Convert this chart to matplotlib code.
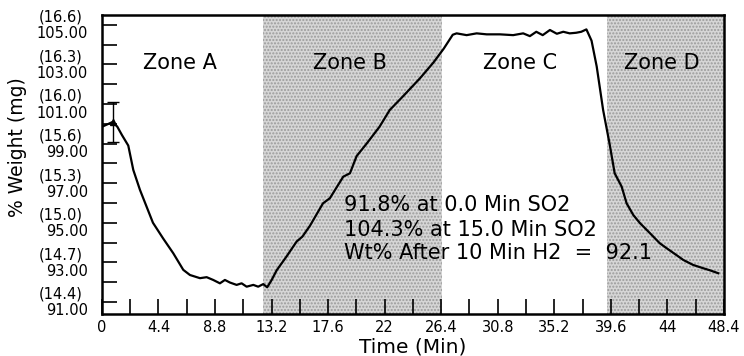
import matplotlib
matplotlib.use('Agg')
import matplotlib.pyplot as plt
from matplotlib.ticker import MultipleLocator

# TGA trace: time (min) vs % weight
time_min = [0.0, 0.86, 1.2, 1.56, 2.05, 2.44, 2.96, 3.97, 4.77, 5.55, 6.33, 6.85,
            7.63, 8.15, 8.66, 9.18, 9.57, 9.96, 10.48, 10.87, 11.26, 11.78, 12.16,
            12.55, 12.86, 13.2, 13.6, 14.37, 15.15, 15.6, 16.19, 17.2, 17.74, 18.78,
            19.3, 19.82, 20.6, 21.6, 22.4, 23.4, 24.75, 25.8, 26.6, 27.3, 27.6,
            28.38, 29.16, 29.94, 30.97, 32.0, 32.78, 33.3, 33.8, 34.3, 34.86, 35.4,
            35.9, 36.4, 36.9, 37.3, 37.7, 38.1, 38.5, 39.0, 39.5, 39.9, 40.44, 40.83,
            41.35, 41.87, 42.65, 43.4, 43.95, 44.7, 45.24, 46.0, 46.8, 47.3, 47.96]
weight_pct = [99.85, 100.1, 99.85, 99.43, 98.9, 97.67, 96.66, 95.0, 94.2, 93.46, 92.62,
              92.36, 92.2, 92.25, 92.11, 91.94, 92.11, 91.98, 91.86, 91.94, 91.77,
              91.86, 91.77, 91.9, 91.74, 92.1, 92.6, 93.3, 94.05, 94.3, 94.85, 95.98,
              96.24, 97.33, 97.5, 98.37, 99.0, 99.85, 100.7, 101.37, 102.3, 103.1,
              103.8, 104.5, 104.57, 104.48, 104.57, 104.52, 104.52, 104.48, 104.57,
              104.43, 104.65, 104.48, 104.74, 104.55, 104.65, 104.57, 104.6, 104.65,
              104.77, 104.2, 102.9, 100.7, 99.0, 97.5, 96.83, 95.98, 95.39, 94.98,
              94.47, 93.97, 93.71, 93.37, 93.12, 92.87, 92.7, 92.6, 92.45]

# starting point with its error bar
start_time = 0.86
start_weight = 100.1
start_err = 1.0

# zones (shaded ones are gas exposure periods)
zone_names = ['Zone A', 'Zone B', 'Zone C', 'Zone D']
zone_label_x = [6.1, 19.3, 32.5, 43.6]
shaded_zones = [(12.5, 26.5), (39.3, 48.4)]

y_ticks = [105, 103, 101, 99, 97, 95, 93, 91]
y_tick_pct = ['105.00', '103.00', '101.00', '99.00', '97.00', '95.00', '93.00', '91.00']
y_tick_mg = ['(16.6)', '(16.3)', '(16.0)', '(15.6)', '(15.3)', '(15.0)', '(14.7)', '(14.4)']
x_ticks = [0, 4.4, 8.8, 13.2, 17.6, 22, 26.4, 30.8, 35.2, 39.6, 44, 48.4]
x_tick_labels = ['0', '4.4', '8.8', '13.2', '17.6', '22', '26.4', '30.8', '35.2', '39.6', '44', '48.4']

notes = ['91.8% at 0.0 Min SO2', '104.3% at 15.0 Min SO2', 'Wt% After 10 Min H2  =  92.1']
notes_y = [95.9, 94.64, 93.47]

fig = plt.figure(figsize=(7.44, 3.56), dpi=100)
ax = fig.add_axes([0.137, 0.118, 0.836, 0.840])

for x0, x1 in shaded_zones:
    ax.axvspan(x0, x1, facecolor='#d6d6d6', edgecolor='#9a9a9a', hatch='.....',
               linewidth=0, zorder=0)

ax.plot(time_min, weight_pct, color='black', linewidth=1.6, zorder=3)
ax.errorbar([start_time], [start_weight], yerr=[start_err], fmt='^', color='black',
            markersize=4, capsize=4, elinewidth=1.0, capthick=1.0, zorder=4)

for name, x in zip(zone_names, zone_label_x):
    ax.text(x, 103.07, name, ha='center', va='center', fontsize=15, zorder=5)

for line, y in zip(notes, notes_y):
    ax.text(18.85, y, line, ha='left', va='center', fontsize=15, zorder=5)

ax.set_xlim(0, 48.4)
ax.set_ylim(90.39, 105.5)

ax.set_xticks(x_ticks)
ax.set_xticklabels(x_tick_labels, fontsize=10.5)
ax.xaxis.set_minor_locator(MultipleLocator(2.2))
ax.yaxis.set_major_locator(MultipleLocator(1))
ax.set_yticklabels([])
ax.tick_params(axis='both', which='both', direction='in', length=11, width=1.2,
               top=False, right=False)
ax.tick_params(axis='x', pad=4)

# two-line y labels: % weight below, mg above the tick
ytrans = ax.get_yaxis_transform()
for y, pct, mg in zip(y_ticks, y_tick_pct, y_tick_mg):
    ax.annotate(pct, xy=(-0.0225, y), xycoords=ytrans, xytext=(0, -6.5),
                textcoords='offset points', ha='right', va='center', fontsize=10.5,
                annotation_clip=False)
    ax.annotate(mg, xy=(-0.066, y), xycoords=ytrans, xytext=(0, 5.5),
                textcoords='offset points', ha='center', va='center', fontsize=10.5,
                annotation_clip=False)

for spine in ax.spines.values():
    spine.set_linewidth(1.8)

ax.set_xlabel('Time (Min)', fontsize=14.5)
ax.xaxis.set_label_coords(0.5, -0.078)
ax.set_ylabel('% Weight (mg)', fontsize=13.5)
ax.yaxis.set_label_coords(-0.12, 0.558)

fig.savefig('out.png', dpi=100)
